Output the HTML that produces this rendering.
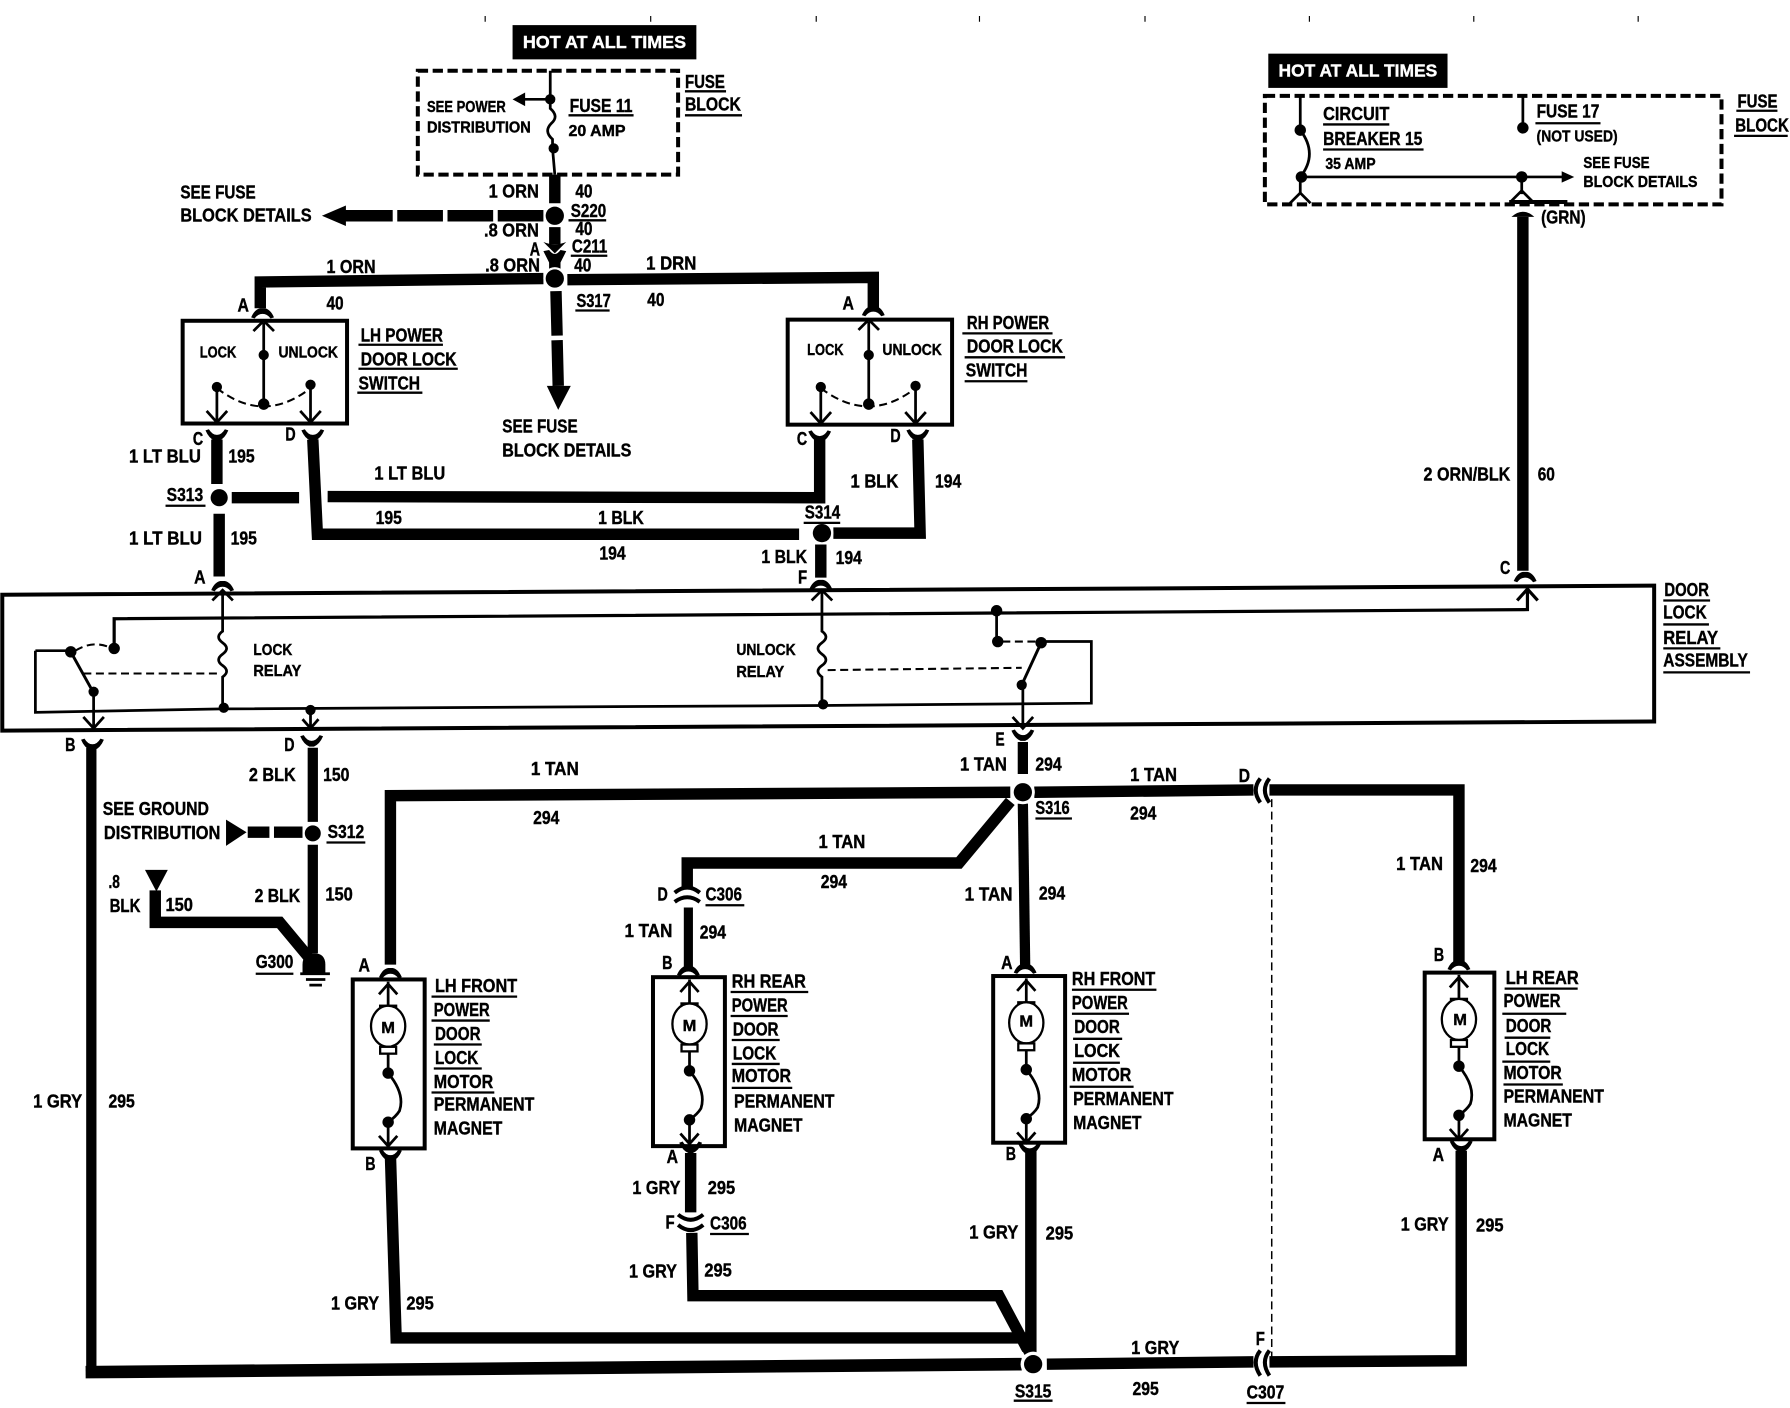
<!DOCTYPE html>
<html><head><meta charset="utf-8"><title>Power door lock wiring diagram</title>
<style>
html,body{margin:0;padding:0;background:#fff}
svg{display:block}
text{font-family:"Liberation Sans Narrow","Liberation Sans",sans-serif;font-weight:700;font-size:16px;fill:#000;stroke:#000;stroke-width:.35;letter-spacing:0}
text.s{font-size:13.5px}
text.w{fill:#fff;stroke:#fff;font-size:15px}
.n,.b,.m,.h,.u,.d{fill:none;stroke:#000}
.n{stroke-width:2.4}
.m{stroke-width:3.5}
.h{stroke-width:10}
.u{stroke-width:2}
.d{stroke-width:1.8;stroke-dasharray:7 4}
.f{fill:#000;stroke:none}
</style></head><body>
<svg xmlns="http://www.w3.org/2000/svg" width="1790" height="1408" viewBox="0 0 1568 1233.4" preserveAspectRatio="none">
<defs>
<path id="up" d="M-10,6 Q-7,-1 -2,-2 H2 Q7,-1 10,6 L7,7 Q4,3 0,3 Q-4,3 -7,7Z" fill="#000"/>
<path id="dn" d="M-10,-6 Q-7,1 -2,3 H2 Q7,1 10,-6 L7,-7 Q4,-2 0,-2 Q-4,-2 -7,-7Z" fill="#000"/>
<g id="motor">
<path class="n" d="M0,2V24M-8,13L0,4L8,13"/>
<rect x="-7" y="23" width="14" height="5" fill="#fff" stroke="#000" stroke-width="2"/>
<ellipse cx="0" cy="41" rx="15" ry="18" fill="#fff" stroke="#000" stroke-width="2"/>
<rect x="-7" y="59" width="14" height="6" fill="#fff" stroke="#000" stroke-width="2"/>
<path class="n" d="M0,65V82Q15,100 10,115Q7,120 0,125V146M-8,137L0,146L8,137"/>
<circle class="f" cx="0" cy="82" r="5"/><circle class="f" cx="0" cy="125" r="5"/>
</g>
</defs>

<!-- top ticks -->
<path class="u" style="stroke-width:1" d="M425,14v5M570,14v5M715,14v5M858,14v5M1003,14v5M1147,14v5M1291,14v5M1435,14v5"/>

<!-- black tags -->
<rect class="f" x="449" y="22" width="161" height="30"/>
<rect class="f" x="1111" y="47" width="157" height="30"/>
<text class="w" x="458" y="42" textLength="143" lengthAdjust="spacingAndGlyphs">HOT AT ALL TIMES</text>
<text class="w" x="1120" y="67" textLength="139" lengthAdjust="spacingAndGlyphs">HOT AT ALL TIMES</text>

<!-- fuse blocks -->
<path class="m" stroke-dasharray="9 4" d="M366,62H594V153H366Z"/>
<path class="m" stroke-dasharray="9 4" d="M1108,84H1508V179H1108Z"/>
<path class="n" d="M482,62V87L482,95Q490,102 483,108Q476,115 484,122V130L486,153M482,87H458"/>
<path class="f" d="M449,87L460,81V93Z"/>
<circle class="f" cx="482" cy="87" r="4.5"/><circle class="f" cx="485" cy="130" r="4.5"/>
<path class="n" d="M1139,84V114Q1155,135 1139,155V170M1139,155H1372M1333,155V170M1334,84V112"/>
<path class="f" d="M1379,155L1368,150V160Z"/>
<circle class="f" cx="1139" cy="114" r="5"/><circle class="f" cx="1140" cy="155" r="5"/><circle class="f" cx="1333" cy="155" r="5"/><circle class="f" cx="1334" cy="112" r="5"/>
<path class="n" d="M1130,178L1139,169L1148,178M1324,176L1333,167L1342,176"/>
<path class="m" d="M1322,177H1373"/>

<!-- top feed -->
<path class="h" d="M486,153V178M486,199V214M486,226V236M487,255L488,294M488,298L489,338"/>
<path class="f" d="M479,338H500L489,359Z"/>
<path class="f" d="M476,212Q486,216 496,212L486,222ZM476,220L481,219Q486,226 491,219L496,220L491,230H481Z"/>
<path class="h" d="M476,189H436M432,189H392M388,189H348M344,189H301"/>
<path class="f" d="M282,189L303,180V198Z"/>
<path class="h" d="M476,244L228,247V270M497,245L765,243V270"/>
<use href="#up" x="230" y="272"/><use href="#up" x="765" y="270"/>

<!-- LH switch -->
<rect x="160" y="281" width="144" height="90" class="m"/>
<path class="n" d="M231,283V354M222,290L231,281L240,290M190,338V370M181,360L190,370L199,360M272,338V370M263,360L272,370L281,360"/>
<path class="d" d="M190,340Q231,372 272,340"/>
<circle class="f" cx="190" cy="339" r="4.5"/><circle class="f" cx="272" cy="337" r="4.5"/><circle class="f" cx="231" cy="354" r="5"/><circle class="f" cx="231" cy="311" r="4.5"/>
<!-- RH switch -->
<rect x="690" y="280" width="144" height="92" class="m"/>
<path class="n" d="M761,282V354M752,289L761,280L770,289M719,338V371M710,361L719,371L728,361M802,338V371M793,361L802,371L811,361"/>
<path class="d" d="M719,340Q761,372 802,340"/>
<circle class="f" cx="719" cy="339" r="4.5"/><circle class="f" cx="802" cy="338" r="4.5"/><circle class="f" cx="761" cy="354" r="5"/><circle class="f" cx="761" cy="311" r="4.5"/>

<!-- switch outputs -->
<use href="#dn" x="190" y="383"/><use href="#dn" x="274" y="383"/><use href="#dn" x="718" y="384"/><use href="#dn" x="804" y="383"/>
<path class="h" d="M190,385V424M192,450V505M203,436H262M287,435L718,436V385M274,385L278,468H700M730,467H806L804,385M719,477V506"/>
<use href="#up" x="195" y="511"/><use href="#up" x="719" y="510"/><use href="#up" x="1336" y="503"/>

<!-- right feed -->
<path class="h" d="M1334,190V500"/>
<path class="f" d="M1324,190Q1334,181 1344,190Z"/>

<!-- relay assembly -->
<path class="m" d="M2,521L1449,513V632L2,640Z"/>
<path class="n" style="stroke-width:2.8" d="M100,568V542L1338,534V515M1329,526L1338,516L1347,526"/>
<path class="n" d="M31,570V624L195,621L720,618L956,616V562H912M31,570H62"/>
<path class="m" style="stroke-width:2.6" d="M62,571L82,607M912,563L895,600"/>
<path class="n" d="M82,607V638M73,628L82,638L91,628M272,622V638M265,630L272,638L279,630M896,600V638M887,628L896,638L905,628M873,535V562"/>
<path class="d" d="M66,570Q82,560 98,568M73,590H190M725,587L895,585M878,562L908,562"/>
<circle class="f" cx="100" cy="568" r="5"/><circle class="f" cx="62" cy="571" r="5"/><circle class="f" cx="82" cy="606" r="4.5"/>
<circle class="f" cx="873" cy="535" r="5"/><circle class="f" cx="874" cy="562" r="5"/><circle class="f" cx="912" cy="563" r="5"/><circle class="f" cx="895" cy="600" r="4.5"/>
<circle class="f" cx="196" cy="620" r="4.5"/><circle class="f" cx="272" cy="622" r="4.5"/><circle class="f" cx="721" cy="617" r="4.5"/>
<path class="n" d="M195,517V553q-7,5 0,10q7,5 0,10q-7,5 0,10q7,5 0,10V620M186,526L195,517L204,526"/>
<path class="n" d="M720,517V553q7,5 0,10q-7,5 0,10q7,5 0,10q-7,5 0,10V617M711,526L720,517L729,526"/>

<!-- under relay -->
<use href="#dn" x="81" y="654"/><use href="#dn" x="273" y="651"/><use href="#dn" x="896" y="646"/>
<path class="h" style="stroke-width:9" d="M80,655V1198M896,650V678M274,655V720M274,740V835"/>
<path class="h" style="stroke-width:11" d="M75,1202L895,1195"/>
<path class="h" d="M136,780V808H245L270,838"/>
<path class="f" d="M198,718V741L216,729Z"/>
<path class="h" d="M217,729H236M240,729H265"/>
<path class="f" d="M127,762H147L137,781Z"/>
<path class="f" d="M265,853V845Q265,835 275,835Q285,835 285,845V853Z"/>
<path class="m" style="stroke-width:2.4" d="M263,853H289M268,858H285M271,863H282"/>

<!-- TAN wires -->
<path class="h" d="M885,694L342,697V845M906,694L1098,692M1112,692H1278V845M885,702L840,756H602V778"/>
<path class="h" style="stroke-width:8" d="M603,795V848"/>
<path class="h" style="stroke-width:9" d="M896,704L898,845"/>
<path class="d" style="stroke-width:1.3" d="M1114,700V1190"/>
<path class="m" d="M591,782Q602,773 613,782M591,790Q602,782 613,790"/>
<path class="m" d="M1104,682Q1096,692 1104,703M1112,682Q1104,692 1112,703"/>
<use href="#up" x="342" y="850"/><use href="#up" x="603" y="848"/><use href="#up" x="898" y="846"/><use href="#up" x="1278" y="843"/>

<!-- motors -->
<rect x="309" y="858" width="63" height="148" class="m"/>
<rect x="572" y="856" width="63" height="148" class="m"/>
<rect x="870" y="855" width="63" height="146" class="m"/>
<rect x="1248" y="852" width="61" height="146" class="m"/>
<use href="#motor" x="340" y="858"/><use href="#motor" x="604" y="856"/><use href="#motor" x="899" y="855"/><use href="#motor" x="1278" y="852"/>
<text class="s" x="334" y="905" textLength="12" lengthAdjust="spacingAndGlyphs">M</text>
<text class="s" x="598" y="903" textLength="12" lengthAdjust="spacingAndGlyphs">M</text>
<text class="s" x="893" y="899" textLength="12" lengthAdjust="spacingAndGlyphs">M</text>
<text class="s" x="1273" y="898" textLength="12" lengthAdjust="spacingAndGlyphs">M</text>

<!-- GRY wires -->
<use href="#dn" x="342" y="1014"/><use href="#dn" x="605" y="1007"/><use href="#dn" x="902" y="1008"/><use href="#dn" x="1280" y="1006"/>
<path class="h" d="M342,1012L347,1172H895L906,1192M606,1080L607,1135H875L900,1182M917,1195L1098,1193M1112,1193L1280,1192V1008M903,1008V1186M605,1010V1062"/>
<path class="m" d="M594,1064Q605,1073 616,1064M594,1073Q605,1082 616,1073"/>
<path class="m" d="M1104,1183Q1096,1193 1104,1205M1112,1183Q1104,1193 1112,1205"/>

<!-- splice dots with white halos -->
<g fill="#fff">
<circle cx="486" cy="189" r="9.5"/><circle cx="486" cy="244" r="10"/><circle cx="192" cy="436" r="9.5"/><circle cx="720" cy="467" r="10"/><circle cx="896" cy="694" r="10.5"/><circle cx="274" cy="730" r="9"/><circle cx="905" cy="1195" r="11"/>
</g>
<circle class="f" cx="486" cy="189" r="8"/><circle class="f" cx="486" cy="244" r="8"/><circle class="f" cx="192" cy="436" r="7.5"/><circle class="f" cx="720" cy="467" r="8"/><circle class="f" cx="896" cy="694" r="8"/><circle class="f" cx="274" cy="730" r="7"/><circle class="f" cx="905" cy="1195" r="8"/>

<!-- underlines -->
<path class="u" d="M600,80h36M600,101h50M498,101h57M498,193h33M500,224h32M504,272h30M314,302h74M314,323h87M313,344h57M843,292h79M845,313h88M845,334h55M145,443h35M704,458h32M1457,526h41M1457,547h40M1457,568h50M1457,589h76M286,738h34M224,853h33M618,793h34M907,717h32M378,873h75M378,894h51M380,915h42M380,936h42M378,957h55M640,869h68M640,890h50M641,911h42M641,932h42M641,953h53M939,867h74M939,888h50M940,910h43M940,931h41M937,952h56M1318,866h64M1316,888h56M1318,909h40M1316,930h42M1317,950h52M622,1081h34M888,1227h34M1092,1229h34M1159,109h58M1159,131h88M1345,108h57M1521,97h36M1519,119h47"/>

<!-- labels -->
<g>
<text x="600" y="77" textLength="35" lengthAdjust="spacingAndGlyphs">FUSE</text>
<text x="600" y="97" textLength="49" lengthAdjust="spacingAndGlyphs">BLOCK</text>
<text class="s" x="374" y="98" textLength="69" lengthAdjust="spacingAndGlyphs">SEE POWER</text>
<text class="s" x="374" y="116" textLength="91" lengthAdjust="spacingAndGlyphs">DISTRIBUTION</text>
<text x="499" y="98" textLength="55" lengthAdjust="spacingAndGlyphs">FUSE 11</text>
<text class="s" x="498" y="119" textLength="50" lengthAdjust="spacingAndGlyphs">20 AMP</text>
<text x="428" y="173" textLength="44" lengthAdjust="spacingAndGlyphs">1 ORN</text>
<text x="504" y="173" textLength="15" lengthAdjust="spacingAndGlyphs">40</text>
<text x="500" y="190" textLength="31" lengthAdjust="spacingAndGlyphs">S220</text>
<text x="424" y="207" textLength="48" lengthAdjust="spacingAndGlyphs">.8 ORN</text>
<text x="504" y="206" textLength="15" lengthAdjust="spacingAndGlyphs">40</text>
<text x="501" y="221" textLength="31" lengthAdjust="spacingAndGlyphs">C211</text>
<text x="464" y="224" textLength="9" lengthAdjust="spacingAndGlyphs">A</text>
<text x="425" y="238" textLength="48" lengthAdjust="spacingAndGlyphs">.8 ORN</text>
<text x="503" y="238" textLength="15" lengthAdjust="spacingAndGlyphs">40</text>
<text x="286" y="239" textLength="43" lengthAdjust="spacingAndGlyphs">1 ORN</text>
<text x="566" y="236" textLength="44" lengthAdjust="spacingAndGlyphs">1 DRN</text>
<text x="286" y="271" textLength="15" lengthAdjust="spacingAndGlyphs">40</text>
<text x="567" y="268" textLength="15" lengthAdjust="spacingAndGlyphs">40</text>
<text x="505" y="269" textLength="30" lengthAdjust="spacingAndGlyphs">S317</text>
<text x="208" y="273" textLength="10" lengthAdjust="spacingAndGlyphs">A</text>
<text x="738" y="271" textLength="10" lengthAdjust="spacingAndGlyphs">A</text>
<text x="158" y="174" textLength="66" lengthAdjust="spacingAndGlyphs">SEE FUSE</text>
<text x="158" y="194" textLength="115" lengthAdjust="spacingAndGlyphs">BLOCK DETAILS</text>
<text class="s" x="175" y="313" textLength="32" lengthAdjust="spacingAndGlyphs">LOCK</text>
<text class="s" x="244" y="313" textLength="52" lengthAdjust="spacingAndGlyphs">UNLOCK</text>
<text class="s" x="707" y="311" textLength="32" lengthAdjust="spacingAndGlyphs">LOCK</text>
<text class="s" x="773" y="311" textLength="52" lengthAdjust="spacingAndGlyphs">UNLOCK</text>
<text x="316" y="299" textLength="72" lengthAdjust="spacingAndGlyphs">LH POWER</text>
<text x="316" y="320" textLength="84" lengthAdjust="spacingAndGlyphs">DOOR LOCK</text>
<text x="314" y="341" textLength="54" lengthAdjust="spacingAndGlyphs">SWITCH</text>
<text x="847" y="288" textLength="72" lengthAdjust="spacingAndGlyphs">RH POWER</text>
<text x="847" y="309" textLength="84" lengthAdjust="spacingAndGlyphs">DOOR LOCK</text>
<text x="846" y="330" textLength="54" lengthAdjust="spacingAndGlyphs">SWITCH</text>
<text x="169" y="390" textLength="9" lengthAdjust="spacingAndGlyphs">C</text>
<text x="250" y="386" textLength="9" lengthAdjust="spacingAndGlyphs">D</text>
<text x="698" y="390" textLength="9" lengthAdjust="spacingAndGlyphs">C</text>
<text x="780" y="387" textLength="9" lengthAdjust="spacingAndGlyphs">D</text>
<text x="113" y="405" textLength="63" lengthAdjust="spacingAndGlyphs">1 LT BLU</text>
<text x="200" y="405" textLength="23" lengthAdjust="spacingAndGlyphs">195</text>
<text x="146" y="439" textLength="32" lengthAdjust="spacingAndGlyphs">S313</text>
<text x="113" y="477" textLength="64" lengthAdjust="spacingAndGlyphs">1 LT BLU</text>
<text x="202" y="477" textLength="23" lengthAdjust="spacingAndGlyphs">195</text>
<text x="170" y="511" textLength="10" lengthAdjust="spacingAndGlyphs">A</text>
<text x="440" y="379" textLength="66" lengthAdjust="spacingAndGlyphs">SEE FUSE</text>
<text x="440" y="400" textLength="113" lengthAdjust="spacingAndGlyphs">BLOCK DETAILS</text>
<text x="328" y="420" textLength="62" lengthAdjust="spacingAndGlyphs">1 LT BLU</text>
<text x="329" y="459" textLength="23" lengthAdjust="spacingAndGlyphs">195</text>
<text x="524" y="459" textLength="40" lengthAdjust="spacingAndGlyphs">1 BLK</text>
<text x="525" y="490" textLength="23" lengthAdjust="spacingAndGlyphs">194</text>
<text x="705" y="454" textLength="31" lengthAdjust="spacingAndGlyphs">S314</text>
<text x="667" y="493" textLength="40" lengthAdjust="spacingAndGlyphs">1 BLK</text>
<text x="732" y="494" textLength="23" lengthAdjust="spacingAndGlyphs">194</text>
<text x="699" y="511" textLength="8" lengthAdjust="spacingAndGlyphs">F</text>
<text x="745" y="427" textLength="42" lengthAdjust="spacingAndGlyphs">1 BLK</text>
<text x="819" y="427" textLength="23" lengthAdjust="spacingAndGlyphs">194</text>
<text x="1247" y="421" textLength="76" lengthAdjust="spacingAndGlyphs">2 ORN/BLK</text>
<text x="1347" y="421" textLength="15" lengthAdjust="spacingAndGlyphs">60</text>
<text x="1314" y="503" textLength="9" lengthAdjust="spacingAndGlyphs">C</text>
<text x="1350" y="196" textLength="39" lengthAdjust="spacingAndGlyphs">(GRN)</text>
<text class="s" x="222" y="574" textLength="34" lengthAdjust="spacingAndGlyphs">LOCK</text>
<text class="s" x="222" y="592" textLength="42" lengthAdjust="spacingAndGlyphs">RELAY</text>
<text class="s" x="645" y="574" textLength="52" lengthAdjust="spacingAndGlyphs">UNLOCK</text>
<text class="s" x="645" y="593" textLength="42" lengthAdjust="spacingAndGlyphs">RELAY</text>
<text x="1458" y="522" textLength="39" lengthAdjust="spacingAndGlyphs">DOOR</text>
<text x="1457" y="542" textLength="38" lengthAdjust="spacingAndGlyphs">LOCK</text>
<text x="1457" y="564" textLength="48" lengthAdjust="spacingAndGlyphs">RELAY</text>
<text x="1457" y="584" textLength="74" lengthAdjust="spacingAndGlyphs">ASSEMBLY</text>
<text x="57" y="658" textLength="9" lengthAdjust="spacingAndGlyphs">B</text>
<text x="249" y="658" textLength="9" lengthAdjust="spacingAndGlyphs">D</text>
<text x="218" y="684" textLength="41" lengthAdjust="spacingAndGlyphs">2 BLK</text>
<text x="283" y="684" textLength="23" lengthAdjust="spacingAndGlyphs">150</text>
<text x="90" y="714" textLength="93" lengthAdjust="spacingAndGlyphs">SEE GROUND</text>
<text x="91" y="735" textLength="102" lengthAdjust="spacingAndGlyphs">DISTRIBUTION</text>
<text x="287" y="734" textLength="32" lengthAdjust="spacingAndGlyphs">S312</text>
<text x="95" y="778" textLength="10" lengthAdjust="spacingAndGlyphs">.8</text>
<text x="96" y="799" textLength="27" lengthAdjust="spacingAndGlyphs">BLK</text>
<text x="145" y="798" textLength="24" lengthAdjust="spacingAndGlyphs">150</text>
<text x="223" y="790" textLength="40" lengthAdjust="spacingAndGlyphs">2 BLK</text>
<text x="285" y="789" textLength="24" lengthAdjust="spacingAndGlyphs">150</text>
<text x="224" y="848" textLength="33" lengthAdjust="spacingAndGlyphs">G300</text>
<text x="465" y="679" textLength="42" lengthAdjust="spacingAndGlyphs">1 TAN</text>
<text x="467" y="722" textLength="23" lengthAdjust="spacingAndGlyphs">294</text>
<text x="717" y="743" textLength="41" lengthAdjust="spacingAndGlyphs">1 TAN</text>
<text x="719" y="778" textLength="23" lengthAdjust="spacingAndGlyphs">294</text>
<text x="576" y="789" textLength="9" lengthAdjust="spacingAndGlyphs">D</text>
<text x="618" y="789" textLength="32" lengthAdjust="spacingAndGlyphs">C306</text>
<text x="547" y="821" textLength="42" lengthAdjust="spacingAndGlyphs">1 TAN</text>
<text x="613" y="822" textLength="23" lengthAdjust="spacingAndGlyphs">294</text>
<text x="580" y="849" textLength="9" lengthAdjust="spacingAndGlyphs">B</text>
<text x="314" y="851" textLength="10" lengthAdjust="spacingAndGlyphs">A</text>
<text x="872" y="653" textLength="8" lengthAdjust="spacingAndGlyphs">E</text>
<text x="841" y="675" textLength="41" lengthAdjust="spacingAndGlyphs">1 TAN</text>
<text x="907" y="675" textLength="23" lengthAdjust="spacingAndGlyphs">294</text>
<text x="990" y="684" textLength="41" lengthAdjust="spacingAndGlyphs">1 TAN</text>
<text x="1085" y="685" textLength="10" lengthAdjust="spacingAndGlyphs">D</text>
<text x="990" y="718" textLength="23" lengthAdjust="spacingAndGlyphs">294</text>
<text x="907" y="713" textLength="30" lengthAdjust="spacingAndGlyphs">S316</text>
<text x="845" y="789" textLength="42" lengthAdjust="spacingAndGlyphs">1 TAN</text>
<text x="910" y="788" textLength="23" lengthAdjust="spacingAndGlyphs">294</text>
<text x="877" y="849" textLength="10" lengthAdjust="spacingAndGlyphs">A</text>
<text x="1223" y="762" textLength="41" lengthAdjust="spacingAndGlyphs">1 TAN</text>
<text x="1288" y="764" textLength="23" lengthAdjust="spacingAndGlyphs">294</text>
<text x="1256" y="842" textLength="9" lengthAdjust="spacingAndGlyphs">B</text>

<text x="381" y="869" textLength="72" lengthAdjust="spacingAndGlyphs">LH FRONT</text>
<text x="380" y="890" textLength="49" lengthAdjust="spacingAndGlyphs">POWER</text>
<text x="381" y="911" textLength="40" lengthAdjust="spacingAndGlyphs">DOOR</text>
<text x="381" y="932" textLength="38" lengthAdjust="spacingAndGlyphs">LOCK</text>
<text x="380" y="953" textLength="52" lengthAdjust="spacingAndGlyphs">MOTOR</text>
<text x="380" y="973" textLength="88" lengthAdjust="spacingAndGlyphs">PERMANENT</text>
<text x="380" y="994" textLength="60" lengthAdjust="spacingAndGlyphs">MAGNET</text>

<text x="641" y="865" textLength="65" lengthAdjust="spacingAndGlyphs">RH REAR</text>
<text x="641" y="886" textLength="49" lengthAdjust="spacingAndGlyphs">POWER</text>
<text x="642" y="907" textLength="40" lengthAdjust="spacingAndGlyphs">DOOR</text>
<text x="642" y="928" textLength="38" lengthAdjust="spacingAndGlyphs">LOCK</text>
<text x="641" y="948" textLength="52" lengthAdjust="spacingAndGlyphs">MOTOR</text>
<text x="643" y="970" textLength="88" lengthAdjust="spacingAndGlyphs">PERMANENT</text>
<text x="643" y="991" textLength="60" lengthAdjust="spacingAndGlyphs">MAGNET</text>

<text x="939" y="863" textLength="73" lengthAdjust="spacingAndGlyphs">RH FRONT</text>
<text x="939" y="884" textLength="49" lengthAdjust="spacingAndGlyphs">POWER</text>
<text x="941" y="905" textLength="40" lengthAdjust="spacingAndGlyphs">DOOR</text>
<text x="941" y="926" textLength="40" lengthAdjust="spacingAndGlyphs">LOCK</text>
<text x="939" y="947" textLength="52" lengthAdjust="spacingAndGlyphs">MOTOR</text>
<text x="940" y="968" textLength="88" lengthAdjust="spacingAndGlyphs">PERMANENT</text>
<text x="940" y="989" textLength="60" lengthAdjust="spacingAndGlyphs">MAGNET</text>

<text x="1319" y="862" textLength="64" lengthAdjust="spacingAndGlyphs">LH REAR</text>
<text x="1317" y="882" textLength="50" lengthAdjust="spacingAndGlyphs">POWER</text>
<text x="1319" y="904" textLength="40" lengthAdjust="spacingAndGlyphs">DOOR</text>
<text x="1319" y="924" textLength="38" lengthAdjust="spacingAndGlyphs">LOCK</text>
<text x="1317" y="945" textLength="51" lengthAdjust="spacingAndGlyphs">MOTOR</text>
<text x="1317" y="966" textLength="88" lengthAdjust="spacingAndGlyphs">PERMANENT</text>
<text x="1317" y="987" textLength="60" lengthAdjust="spacingAndGlyphs">MAGNET</text>

<text x="320" y="1025" textLength="9" lengthAdjust="spacingAndGlyphs">B</text>
<text x="29" y="970" textLength="43" lengthAdjust="spacingAndGlyphs">1 GRY</text>
<text x="95" y="970" textLength="23" lengthAdjust="spacingAndGlyphs">295</text>
<text x="584" y="1019" textLength="10" lengthAdjust="spacingAndGlyphs">A</text>
<text x="554" y="1046" textLength="42" lengthAdjust="spacingAndGlyphs">1 GRY</text>
<text x="620" y="1046" textLength="24" lengthAdjust="spacingAndGlyphs">295</text>
<text x="583" y="1076" textLength="8" lengthAdjust="spacingAndGlyphs">F</text>
<text x="622" y="1077" textLength="32" lengthAdjust="spacingAndGlyphs">C306</text>
<text x="551" y="1119" textLength="42" lengthAdjust="spacingAndGlyphs">1 GRY</text>
<text x="617" y="1118" textLength="24" lengthAdjust="spacingAndGlyphs">295</text>
<text x="290" y="1147" textLength="42" lengthAdjust="spacingAndGlyphs">1 GRY</text>
<text x="356" y="1147" textLength="24" lengthAdjust="spacingAndGlyphs">295</text>
<text x="881" y="1016" textLength="9" lengthAdjust="spacingAndGlyphs">B</text>
<text x="849" y="1085" textLength="43" lengthAdjust="spacingAndGlyphs">1 GRY</text>
<text x="916" y="1086" textLength="24" lengthAdjust="spacingAndGlyphs">295</text>
<text x="1255" y="1017" textLength="10" lengthAdjust="spacingAndGlyphs">A</text>
<text x="1227" y="1078" textLength="42" lengthAdjust="spacingAndGlyphs">1 GRY</text>
<text x="1293" y="1079" textLength="24" lengthAdjust="spacingAndGlyphs">295</text>
<text x="991" y="1186" textLength="42" lengthAdjust="spacingAndGlyphs">1 GRY</text>
<text x="1100" y="1178" textLength="8" lengthAdjust="spacingAndGlyphs">F</text>
<text x="992" y="1222" textLength="23" lengthAdjust="spacingAndGlyphs">295</text>
<text x="889" y="1224" textLength="32" lengthAdjust="spacingAndGlyphs">S315</text>
<text x="1092" y="1225" textLength="33" lengthAdjust="spacingAndGlyphs">C307</text>

<text x="1159" y="105" textLength="58" lengthAdjust="spacingAndGlyphs">CIRCUIT</text>
<text x="1159" y="127" textLength="87" lengthAdjust="spacingAndGlyphs">BREAKER 15</text>
<text class="s" x="1161" y="148" textLength="44" lengthAdjust="spacingAndGlyphs">35 AMP</text>
<text x="1346" y="103" textLength="55" lengthAdjust="spacingAndGlyphs">FUSE 17</text>
<text class="s" x="1346" y="124" textLength="71" lengthAdjust="spacingAndGlyphs">(NOT USED)</text>
<text class="s" x="1387" y="147" textLength="58" lengthAdjust="spacingAndGlyphs">SEE FUSE</text>
<text class="s" x="1387" y="164" textLength="100" lengthAdjust="spacingAndGlyphs">BLOCK DETAILS</text>
<text x="1522" y="94" textLength="35" lengthAdjust="spacingAndGlyphs">FUSE</text>
<text x="1520" y="115" textLength="47" lengthAdjust="spacingAndGlyphs">BLOCK</text>
</g>
</svg>
</body></html>
